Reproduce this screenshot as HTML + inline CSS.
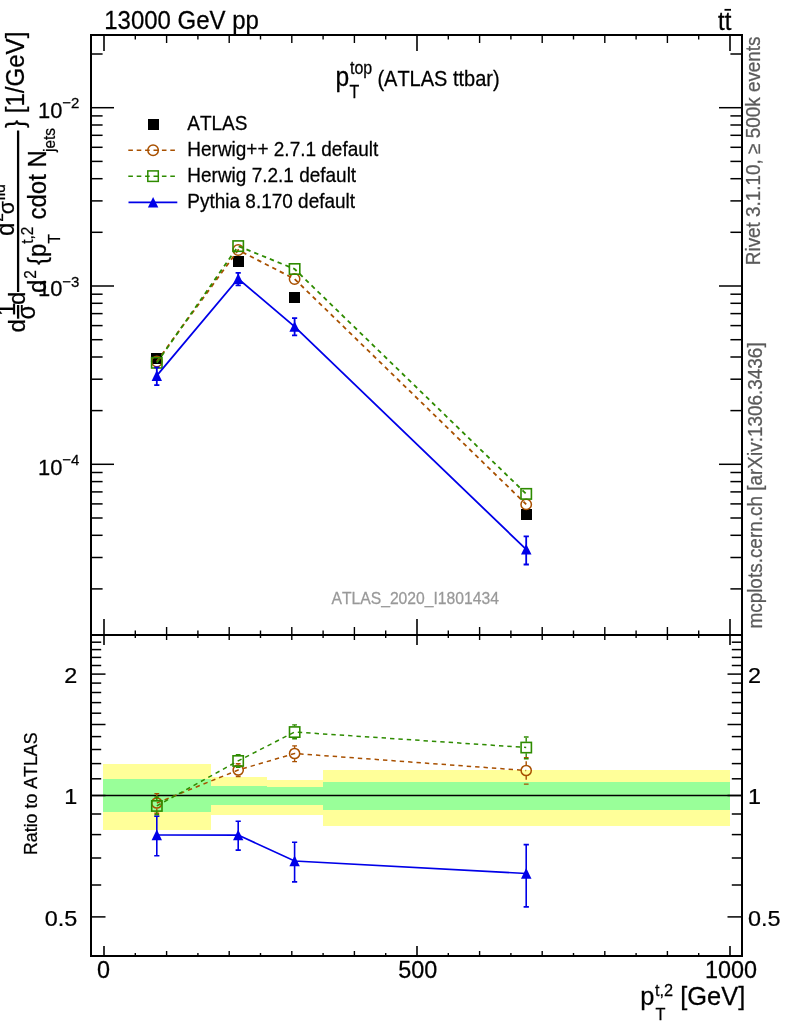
<!DOCTYPE html>
<html><head><meta charset="utf-8"><title>pT top (ATLAS ttbar)</title>
<style>html,body{margin:0;padding:0;background:#fff;}svg{display:block;}text{font-family:"Liberation Sans",Arial,Helvetica,sans-serif;font-kerning:none;}</style>
</head><body>
<svg width="786" height="1024" viewBox="0 0 786 1024">
<rect x="0" y="0" width="786" height="1024" fill="#fff"/>
<g shape-rendering="crispEdges">
<rect x="103.0" y="764.0" width="108.0" height="66.1" fill="#ffff99"/>
<rect x="211.0" y="776.8" width="56.0" height="38.3" fill="#ffff99"/>
<rect x="267.0" y="780.0" width="56.0" height="35.1" fill="#ffff99"/>
<rect x="323.0" y="770.3" width="407.0" height="55.4" fill="#ffff99"/>
<rect x="103.0" y="778.9" width="108.0" height="33.0" fill="#99ff99"/>
<rect x="211.0" y="786.0" width="56.0" height="18.6" fill="#99ff99"/>
<rect x="267.0" y="787.4" width="56.0" height="17.2" fill="#99ff99"/>
<rect x="323.0" y="782.2" width="407.0" height="27.6" fill="#99ff99"/>
</g>
<line x1="91.0" y1="795.5" x2="742.0" y2="795.5" stroke="#000" stroke-width="1.4"/>
<g stroke="#000" stroke-width="2" fill="none" stroke-linecap="square">
<rect x="91.0" y="35.0" width="651.0" height="600.0"/>
<rect x="91.0" y="635.0" width="651.0" height="321.0"/>
</g>
<g><line x1="104.0" y1="35.0" x2="104.0" y2="51.0" stroke="#000" stroke-width="1.6"/><line x1="104.0" y1="619.0" x2="104.0" y2="635.0" stroke="#000" stroke-width="1.6"/><line x1="104.0" y1="635.0" x2="104.0" y2="645.0" stroke="#000" stroke-width="1.6"/><line x1="104.0" y1="946.0" x2="104.0" y2="956.0" stroke="#000" stroke-width="1.6"/><line x1="135.3" y1="35.0" x2="135.3" y2="39.5" stroke="#000" stroke-width="1.4"/><line x1="135.3" y1="630.5" x2="135.3" y2="635.0" stroke="#000" stroke-width="1.4"/><line x1="135.3" y1="635.0" x2="135.3" y2="638.0" stroke="#000" stroke-width="1.4"/><line x1="135.3" y1="953.0" x2="135.3" y2="956.0" stroke="#000" stroke-width="1.4"/><line x1="166.6" y1="35.0" x2="166.6" y2="43.0" stroke="#000" stroke-width="1.4"/><line x1="166.6" y1="627.0" x2="166.6" y2="635.0" stroke="#000" stroke-width="1.4"/><line x1="166.6" y1="635.0" x2="166.6" y2="640.0" stroke="#000" stroke-width="1.4"/><line x1="166.6" y1="951.0" x2="166.6" y2="956.0" stroke="#000" stroke-width="1.4"/><line x1="197.9" y1="35.0" x2="197.9" y2="39.5" stroke="#000" stroke-width="1.4"/><line x1="197.9" y1="630.5" x2="197.9" y2="635.0" stroke="#000" stroke-width="1.4"/><line x1="197.9" y1="635.0" x2="197.9" y2="638.0" stroke="#000" stroke-width="1.4"/><line x1="197.9" y1="953.0" x2="197.9" y2="956.0" stroke="#000" stroke-width="1.4"/><line x1="229.2" y1="35.0" x2="229.2" y2="43.0" stroke="#000" stroke-width="1.4"/><line x1="229.2" y1="627.0" x2="229.2" y2="635.0" stroke="#000" stroke-width="1.4"/><line x1="229.2" y1="635.0" x2="229.2" y2="640.0" stroke="#000" stroke-width="1.4"/><line x1="229.2" y1="951.0" x2="229.2" y2="956.0" stroke="#000" stroke-width="1.4"/><line x1="260.5" y1="35.0" x2="260.5" y2="39.5" stroke="#000" stroke-width="1.4"/><line x1="260.5" y1="630.5" x2="260.5" y2="635.0" stroke="#000" stroke-width="1.4"/><line x1="260.5" y1="635.0" x2="260.5" y2="638.0" stroke="#000" stroke-width="1.4"/><line x1="260.5" y1="953.0" x2="260.5" y2="956.0" stroke="#000" stroke-width="1.4"/><line x1="291.8" y1="35.0" x2="291.8" y2="43.0" stroke="#000" stroke-width="1.4"/><line x1="291.8" y1="627.0" x2="291.8" y2="635.0" stroke="#000" stroke-width="1.4"/><line x1="291.8" y1="635.0" x2="291.8" y2="640.0" stroke="#000" stroke-width="1.4"/><line x1="291.8" y1="951.0" x2="291.8" y2="956.0" stroke="#000" stroke-width="1.4"/><line x1="323.1" y1="35.0" x2="323.1" y2="39.5" stroke="#000" stroke-width="1.4"/><line x1="323.1" y1="630.5" x2="323.1" y2="635.0" stroke="#000" stroke-width="1.4"/><line x1="323.1" y1="635.0" x2="323.1" y2="638.0" stroke="#000" stroke-width="1.4"/><line x1="323.1" y1="953.0" x2="323.1" y2="956.0" stroke="#000" stroke-width="1.4"/><line x1="354.4" y1="35.0" x2="354.4" y2="43.0" stroke="#000" stroke-width="1.4"/><line x1="354.4" y1="627.0" x2="354.4" y2="635.0" stroke="#000" stroke-width="1.4"/><line x1="354.4" y1="635.0" x2="354.4" y2="640.0" stroke="#000" stroke-width="1.4"/><line x1="354.4" y1="951.0" x2="354.4" y2="956.0" stroke="#000" stroke-width="1.4"/><line x1="385.7" y1="35.0" x2="385.7" y2="39.5" stroke="#000" stroke-width="1.4"/><line x1="385.7" y1="630.5" x2="385.7" y2="635.0" stroke="#000" stroke-width="1.4"/><line x1="385.7" y1="635.0" x2="385.7" y2="638.0" stroke="#000" stroke-width="1.4"/><line x1="385.7" y1="953.0" x2="385.7" y2="956.0" stroke="#000" stroke-width="1.4"/><line x1="417.0" y1="35.0" x2="417.0" y2="51.0" stroke="#000" stroke-width="1.6"/><line x1="417.0" y1="619.0" x2="417.0" y2="635.0" stroke="#000" stroke-width="1.6"/><line x1="417.0" y1="635.0" x2="417.0" y2="645.0" stroke="#000" stroke-width="1.6"/><line x1="417.0" y1="946.0" x2="417.0" y2="956.0" stroke="#000" stroke-width="1.6"/><line x1="448.3" y1="35.0" x2="448.3" y2="39.5" stroke="#000" stroke-width="1.4"/><line x1="448.3" y1="630.5" x2="448.3" y2="635.0" stroke="#000" stroke-width="1.4"/><line x1="448.3" y1="635.0" x2="448.3" y2="638.0" stroke="#000" stroke-width="1.4"/><line x1="448.3" y1="953.0" x2="448.3" y2="956.0" stroke="#000" stroke-width="1.4"/><line x1="479.6" y1="35.0" x2="479.6" y2="43.0" stroke="#000" stroke-width="1.4"/><line x1="479.6" y1="627.0" x2="479.6" y2="635.0" stroke="#000" stroke-width="1.4"/><line x1="479.6" y1="635.0" x2="479.6" y2="640.0" stroke="#000" stroke-width="1.4"/><line x1="479.6" y1="951.0" x2="479.6" y2="956.0" stroke="#000" stroke-width="1.4"/><line x1="510.9" y1="35.0" x2="510.9" y2="39.5" stroke="#000" stroke-width="1.4"/><line x1="510.9" y1="630.5" x2="510.9" y2="635.0" stroke="#000" stroke-width="1.4"/><line x1="510.9" y1="635.0" x2="510.9" y2="638.0" stroke="#000" stroke-width="1.4"/><line x1="510.9" y1="953.0" x2="510.9" y2="956.0" stroke="#000" stroke-width="1.4"/><line x1="542.2" y1="35.0" x2="542.2" y2="43.0" stroke="#000" stroke-width="1.4"/><line x1="542.2" y1="627.0" x2="542.2" y2="635.0" stroke="#000" stroke-width="1.4"/><line x1="542.2" y1="635.0" x2="542.2" y2="640.0" stroke="#000" stroke-width="1.4"/><line x1="542.2" y1="951.0" x2="542.2" y2="956.0" stroke="#000" stroke-width="1.4"/><line x1="573.5" y1="35.0" x2="573.5" y2="39.5" stroke="#000" stroke-width="1.4"/><line x1="573.5" y1="630.5" x2="573.5" y2="635.0" stroke="#000" stroke-width="1.4"/><line x1="573.5" y1="635.0" x2="573.5" y2="638.0" stroke="#000" stroke-width="1.4"/><line x1="573.5" y1="953.0" x2="573.5" y2="956.0" stroke="#000" stroke-width="1.4"/><line x1="604.8" y1="35.0" x2="604.8" y2="43.0" stroke="#000" stroke-width="1.4"/><line x1="604.8" y1="627.0" x2="604.8" y2="635.0" stroke="#000" stroke-width="1.4"/><line x1="604.8" y1="635.0" x2="604.8" y2="640.0" stroke="#000" stroke-width="1.4"/><line x1="604.8" y1="951.0" x2="604.8" y2="956.0" stroke="#000" stroke-width="1.4"/><line x1="636.1" y1="35.0" x2="636.1" y2="39.5" stroke="#000" stroke-width="1.4"/><line x1="636.1" y1="630.5" x2="636.1" y2="635.0" stroke="#000" stroke-width="1.4"/><line x1="636.1" y1="635.0" x2="636.1" y2="638.0" stroke="#000" stroke-width="1.4"/><line x1="636.1" y1="953.0" x2="636.1" y2="956.0" stroke="#000" stroke-width="1.4"/><line x1="667.4" y1="35.0" x2="667.4" y2="43.0" stroke="#000" stroke-width="1.4"/><line x1="667.4" y1="627.0" x2="667.4" y2="635.0" stroke="#000" stroke-width="1.4"/><line x1="667.4" y1="635.0" x2="667.4" y2="640.0" stroke="#000" stroke-width="1.4"/><line x1="667.4" y1="951.0" x2="667.4" y2="956.0" stroke="#000" stroke-width="1.4"/><line x1="698.7" y1="35.0" x2="698.7" y2="39.5" stroke="#000" stroke-width="1.4"/><line x1="698.7" y1="630.5" x2="698.7" y2="635.0" stroke="#000" stroke-width="1.4"/><line x1="698.7" y1="635.0" x2="698.7" y2="638.0" stroke="#000" stroke-width="1.4"/><line x1="698.7" y1="953.0" x2="698.7" y2="956.0" stroke="#000" stroke-width="1.4"/><line x1="730.0" y1="35.0" x2="730.0" y2="51.0" stroke="#000" stroke-width="1.6"/><line x1="730.0" y1="619.0" x2="730.0" y2="635.0" stroke="#000" stroke-width="1.6"/><line x1="730.0" y1="635.0" x2="730.0" y2="645.0" stroke="#000" stroke-width="1.6"/><line x1="730.0" y1="946.0" x2="730.0" y2="956.0" stroke="#000" stroke-width="1.6"/><line x1="91.0" y1="588.9" x2="102.6" y2="588.9" stroke="#000" stroke-width="1.5"/><line x1="730.4" y1="588.9" x2="742.0" y2="588.9" stroke="#000" stroke-width="1.5"/><line x1="91.0" y1="557.5" x2="102.6" y2="557.5" stroke="#000" stroke-width="1.5"/><line x1="730.4" y1="557.5" x2="742.0" y2="557.5" stroke="#000" stroke-width="1.5"/><line x1="91.0" y1="535.3" x2="102.6" y2="535.3" stroke="#000" stroke-width="1.5"/><line x1="730.4" y1="535.3" x2="742.0" y2="535.3" stroke="#000" stroke-width="1.5"/><line x1="91.0" y1="518.0" x2="102.6" y2="518.0" stroke="#000" stroke-width="1.5"/><line x1="730.4" y1="518.0" x2="742.0" y2="518.0" stroke="#000" stroke-width="1.5"/><line x1="91.0" y1="503.9" x2="102.6" y2="503.9" stroke="#000" stroke-width="1.5"/><line x1="730.4" y1="503.9" x2="742.0" y2="503.9" stroke="#000" stroke-width="1.5"/><line x1="91.0" y1="491.9" x2="102.6" y2="491.9" stroke="#000" stroke-width="1.5"/><line x1="730.4" y1="491.9" x2="742.0" y2="491.9" stroke="#000" stroke-width="1.5"/><line x1="91.0" y1="481.6" x2="102.6" y2="481.6" stroke="#000" stroke-width="1.5"/><line x1="730.4" y1="481.6" x2="742.0" y2="481.6" stroke="#000" stroke-width="1.5"/><line x1="91.0" y1="472.5" x2="102.6" y2="472.5" stroke="#000" stroke-width="1.5"/><line x1="730.4" y1="472.5" x2="742.0" y2="472.5" stroke="#000" stroke-width="1.5"/><line x1="91.0" y1="464.3" x2="114.0" y2="464.3" stroke="#000" stroke-width="1.5"/><line x1="719.0" y1="464.3" x2="742.0" y2="464.3" stroke="#000" stroke-width="1.5"/><line x1="91.0" y1="410.6" x2="102.6" y2="410.6" stroke="#000" stroke-width="1.5"/><line x1="730.4" y1="410.6" x2="742.0" y2="410.6" stroke="#000" stroke-width="1.5"/><line x1="91.0" y1="379.2" x2="102.6" y2="379.2" stroke="#000" stroke-width="1.5"/><line x1="730.4" y1="379.2" x2="742.0" y2="379.2" stroke="#000" stroke-width="1.5"/><line x1="91.0" y1="357.0" x2="102.6" y2="357.0" stroke="#000" stroke-width="1.5"/><line x1="730.4" y1="357.0" x2="742.0" y2="357.0" stroke="#000" stroke-width="1.5"/><line x1="91.0" y1="339.7" x2="102.6" y2="339.7" stroke="#000" stroke-width="1.5"/><line x1="730.4" y1="339.7" x2="742.0" y2="339.7" stroke="#000" stroke-width="1.5"/><line x1="91.0" y1="325.6" x2="102.6" y2="325.6" stroke="#000" stroke-width="1.5"/><line x1="730.4" y1="325.6" x2="742.0" y2="325.6" stroke="#000" stroke-width="1.5"/><line x1="91.0" y1="313.6" x2="102.6" y2="313.6" stroke="#000" stroke-width="1.5"/><line x1="730.4" y1="313.6" x2="742.0" y2="313.6" stroke="#000" stroke-width="1.5"/><line x1="91.0" y1="303.3" x2="102.6" y2="303.3" stroke="#000" stroke-width="1.5"/><line x1="730.4" y1="303.3" x2="742.0" y2="303.3" stroke="#000" stroke-width="1.5"/><line x1="91.0" y1="294.2" x2="102.6" y2="294.2" stroke="#000" stroke-width="1.5"/><line x1="730.4" y1="294.2" x2="742.0" y2="294.2" stroke="#000" stroke-width="1.5"/><line x1="91.0" y1="286.0" x2="114.0" y2="286.0" stroke="#000" stroke-width="1.5"/><line x1="719.0" y1="286.0" x2="742.0" y2="286.0" stroke="#000" stroke-width="1.5"/><line x1="91.0" y1="232.3" x2="102.6" y2="232.3" stroke="#000" stroke-width="1.5"/><line x1="730.4" y1="232.3" x2="742.0" y2="232.3" stroke="#000" stroke-width="1.5"/><line x1="91.0" y1="200.9" x2="102.6" y2="200.9" stroke="#000" stroke-width="1.5"/><line x1="730.4" y1="200.9" x2="742.0" y2="200.9" stroke="#000" stroke-width="1.5"/><line x1="91.0" y1="178.7" x2="102.6" y2="178.7" stroke="#000" stroke-width="1.5"/><line x1="730.4" y1="178.7" x2="742.0" y2="178.7" stroke="#000" stroke-width="1.5"/><line x1="91.0" y1="161.4" x2="102.6" y2="161.4" stroke="#000" stroke-width="1.5"/><line x1="730.4" y1="161.4" x2="742.0" y2="161.4" stroke="#000" stroke-width="1.5"/><line x1="91.0" y1="147.3" x2="102.6" y2="147.3" stroke="#000" stroke-width="1.5"/><line x1="730.4" y1="147.3" x2="742.0" y2="147.3" stroke="#000" stroke-width="1.5"/><line x1="91.0" y1="135.3" x2="102.6" y2="135.3" stroke="#000" stroke-width="1.5"/><line x1="730.4" y1="135.3" x2="742.0" y2="135.3" stroke="#000" stroke-width="1.5"/><line x1="91.0" y1="125.0" x2="102.6" y2="125.0" stroke="#000" stroke-width="1.5"/><line x1="730.4" y1="125.0" x2="742.0" y2="125.0" stroke="#000" stroke-width="1.5"/><line x1="91.0" y1="115.9" x2="102.6" y2="115.9" stroke="#000" stroke-width="1.5"/><line x1="730.4" y1="115.9" x2="742.0" y2="115.9" stroke="#000" stroke-width="1.5"/><line x1="91.0" y1="107.7" x2="114.0" y2="107.7" stroke="#000" stroke-width="1.5"/><line x1="719.0" y1="107.7" x2="742.0" y2="107.7" stroke="#000" stroke-width="1.5"/><line x1="91.0" y1="54.0" x2="102.6" y2="54.0" stroke="#000" stroke-width="1.5"/><line x1="730.4" y1="54.0" x2="742.0" y2="54.0" stroke="#000" stroke-width="1.5"/><line x1="91.0" y1="916.9" x2="105.5" y2="916.9" stroke="#000" stroke-width="1.5"/><line x1="727.5" y1="916.9" x2="742.0" y2="916.9" stroke="#000" stroke-width="1.5"/><line x1="91.0" y1="885.0" x2="101.2" y2="885.0" stroke="#000" stroke-width="1.5"/><line x1="731.8" y1="885.0" x2="742.0" y2="885.0" stroke="#000" stroke-width="1.5"/><line x1="91.0" y1="858.0" x2="101.2" y2="858.0" stroke="#000" stroke-width="1.5"/><line x1="731.8" y1="858.0" x2="742.0" y2="858.0" stroke="#000" stroke-width="1.5"/><line x1="91.0" y1="834.6" x2="101.2" y2="834.6" stroke="#000" stroke-width="1.5"/><line x1="731.8" y1="834.6" x2="742.0" y2="834.6" stroke="#000" stroke-width="1.5"/><line x1="91.0" y1="814.0" x2="101.2" y2="814.0" stroke="#000" stroke-width="1.5"/><line x1="731.8" y1="814.0" x2="742.0" y2="814.0" stroke="#000" stroke-width="1.5"/><line x1="91.0" y1="795.5" x2="105.5" y2="795.5" stroke="#000" stroke-width="1.5"/><line x1="727.5" y1="795.5" x2="742.0" y2="795.5" stroke="#000" stroke-width="1.5"/><line x1="91.0" y1="778.8" x2="101.2" y2="778.8" stroke="#000" stroke-width="1.5"/><line x1="731.8" y1="778.8" x2="742.0" y2="778.8" stroke="#000" stroke-width="1.5"/><line x1="91.0" y1="763.6" x2="101.2" y2="763.6" stroke="#000" stroke-width="1.5"/><line x1="731.8" y1="763.6" x2="742.0" y2="763.6" stroke="#000" stroke-width="1.5"/><line x1="91.0" y1="749.5" x2="101.2" y2="749.5" stroke="#000" stroke-width="1.5"/><line x1="731.8" y1="749.5" x2="742.0" y2="749.5" stroke="#000" stroke-width="1.5"/><line x1="91.0" y1="736.6" x2="101.2" y2="736.6" stroke="#000" stroke-width="1.5"/><line x1="731.8" y1="736.6" x2="742.0" y2="736.6" stroke="#000" stroke-width="1.5"/><line x1="91.0" y1="724.5" x2="105.5" y2="724.5" stroke="#000" stroke-width="1.5"/><line x1="727.5" y1="724.5" x2="742.0" y2="724.5" stroke="#000" stroke-width="1.5"/><line x1="91.0" y1="713.2" x2="101.2" y2="713.2" stroke="#000" stroke-width="1.5"/><line x1="731.8" y1="713.2" x2="742.0" y2="713.2" stroke="#000" stroke-width="1.5"/><line x1="91.0" y1="702.6" x2="101.2" y2="702.6" stroke="#000" stroke-width="1.5"/><line x1="731.8" y1="702.6" x2="742.0" y2="702.6" stroke="#000" stroke-width="1.5"/><line x1="91.0" y1="692.5" x2="101.2" y2="692.5" stroke="#000" stroke-width="1.5"/><line x1="731.8" y1="692.5" x2="742.0" y2="692.5" stroke="#000" stroke-width="1.5"/><line x1="91.0" y1="683.1" x2="101.2" y2="683.1" stroke="#000" stroke-width="1.5"/><line x1="731.8" y1="683.1" x2="742.0" y2="683.1" stroke="#000" stroke-width="1.5"/><line x1="91.0" y1="674.1" x2="105.5" y2="674.1" stroke="#000" stroke-width="1.5"/><line x1="727.5" y1="674.1" x2="742.0" y2="674.1" stroke="#000" stroke-width="1.5"/><line x1="91.0" y1="665.5" x2="101.2" y2="665.5" stroke="#000" stroke-width="1.5"/><line x1="731.8" y1="665.5" x2="742.0" y2="665.5" stroke="#000" stroke-width="1.5"/><line x1="91.0" y1="657.4" x2="101.2" y2="657.4" stroke="#000" stroke-width="1.5"/><line x1="731.8" y1="657.4" x2="742.0" y2="657.4" stroke="#000" stroke-width="1.5"/><line x1="91.0" y1="649.6" x2="101.2" y2="649.6" stroke="#000" stroke-width="1.5"/><line x1="731.8" y1="649.6" x2="742.0" y2="649.6" stroke="#000" stroke-width="1.5"/><line x1="91.0" y1="642.2" x2="101.2" y2="642.2" stroke="#000" stroke-width="1.5"/><line x1="731.8" y1="642.2" x2="742.0" y2="642.2" stroke="#000" stroke-width="1.5"/></g>
<rect x="151.2" y="353.1" width="11.2" height="11.2" fill="#000" shape-rendering="crispEdges"/>
<rect x="232.6" y="255.8" width="11.2" height="11.2" fill="#000" shape-rendering="crispEdges"/>
<rect x="289.0" y="291.8" width="11.2" height="11.2" fill="#000" shape-rendering="crispEdges"/>
<rect x="520.6" y="509.2" width="11.2" height="11.2" fill="#000" shape-rendering="crispEdges"/>
<polyline points="156.8,361.5 238.2,250.0 294.6,279.0 526.2,504.4" fill="none" stroke="#a85000" stroke-width="1.8" stroke-dasharray="4.4 4"/>
<circle cx="156.8" cy="361.5" r="5.2" fill="none" stroke="#a85000" stroke-width="1.5"/>
<circle cx="238.2" cy="250.0" r="5.2" fill="none" stroke="#a85000" stroke-width="1.5"/>
<circle cx="294.6" cy="279.0" r="5.2" fill="none" stroke="#a85000" stroke-width="1.5"/>
<circle cx="526.2" cy="504.4" r="5.2" fill="none" stroke="#a85000" stroke-width="1.5"/>
<polyline points="156.8,362.8 238.2,246.1 294.6,269.0 526.2,493.9" fill="none" stroke="#2e8b00" stroke-width="1.8" stroke-dasharray="4.4 4"/>
<rect x="151.6" y="357.6" width="10.4" height="10.4" fill="none" stroke="#2e8b00" stroke-width="1.6"/>
<rect x="233.0" y="240.9" width="10.4" height="10.4" fill="none" stroke="#2e8b00" stroke-width="1.6"/>
<rect x="289.4" y="263.8" width="10.4" height="10.4" fill="none" stroke="#2e8b00" stroke-width="1.6"/>
<rect x="521.0" y="488.7" width="10.4" height="10.4" fill="none" stroke="#2e8b00" stroke-width="1.6"/>
<polyline points="156.8,375.7 238.2,278.7 294.6,326.6 526.2,549.4" fill="none" stroke="#0000e8" stroke-width="1.8"/>
<path d="M156.8 367.3V385.1M154.2 367.3H159.4M154.2 385.1H159.4" stroke="#0000e8" stroke-width="1.8" fill="none"/>
<path d="M238.2 272.9V285.3M235.6 272.9H240.8M235.6 285.3H240.8" stroke="#0000e8" stroke-width="1.8" fill="none"/>
<path d="M294.6 318.2V335.3M292.0 318.2H297.2M292.0 335.3H297.2" stroke="#0000e8" stroke-width="1.8" fill="none"/>
<path d="M526.2 536.4V564.5M523.6 536.4H528.9M523.6 564.5H528.9" stroke="#0000e8" stroke-width="1.8" fill="none"/>
<path d="M156.8 370.3L162.0 380.9H151.6Z" fill="#0000e8"/>
<path d="M238.2 273.3L243.4 283.9H233.0Z" fill="#0000e8"/>
<path d="M294.6 321.2L299.8 331.8H289.4Z" fill="#0000e8"/>
<path d="M526.2 544.0L531.5 554.6H521.0Z" fill="#0000e8"/>
<polyline points="156.8,803.0 238.2,770.0 294.6,753.5 526.2,770.5" fill="none" stroke="#a85000" stroke-width="1.5" stroke-dasharray="4.4 4"/>
<g stroke="#a85000" stroke-width="1.4" fill="none"><line x1="156.8" y1="797.4" x2="156.8" y2="793.6" stroke-dasharray="3.6 20"/><line x1="156.8" y1="808.6" x2="156.8" y2="813.2" stroke-dasharray="3.6 20"/><path d="M154.4 793.6H159.2M154.4 813.2H159.2"/></g>
<g stroke="#a85000" stroke-width="1.4" fill="none"><line x1="238.2" y1="764.4" x2="238.2" y2="763.6" stroke-dasharray="3.6 20"/><line x1="238.2" y1="775.6" x2="238.2" y2="776.5" stroke-dasharray="3.6 20"/><path d="M235.8 763.6H240.6M235.8 776.5H240.6"/></g>
<g stroke="#a85000" stroke-width="1.4" fill="none"><line x1="294.6" y1="747.9" x2="294.6" y2="745.9" stroke-dasharray="3.6 20"/><line x1="294.6" y1="759.1" x2="294.6" y2="761.6" stroke-dasharray="3.6 20"/><path d="M292.2 745.9H297.0M292.2 761.6H297.0"/></g>
<g stroke="#a85000" stroke-width="1.4" fill="none"><line x1="526.2" y1="764.9" x2="526.2" y2="757.6" stroke-dasharray="3.6 20"/><line x1="526.2" y1="776.1" x2="526.2" y2="784.1" stroke-dasharray="3.6 20"/><path d="M523.9 757.6H528.6M523.9 784.1H528.6"/></g>
<circle cx="156.8" cy="803.0" r="5.1" fill="none" stroke="#a85000" stroke-width="1.5"/>
<circle cx="238.2" cy="770.0" r="5.1" fill="none" stroke="#a85000" stroke-width="1.5"/>
<circle cx="294.6" cy="753.5" r="5.1" fill="none" stroke="#a85000" stroke-width="1.5"/>
<circle cx="526.2" cy="770.5" r="5.1" fill="none" stroke="#a85000" stroke-width="1.5"/>
<polyline points="156.8,805.9 238.2,760.9 294.6,732.0 526.2,747.5" fill="none" stroke="#2e8b00" stroke-width="1.5" stroke-dasharray="4.4 4"/>
<g stroke="#2e8b00" stroke-width="1.4" fill="none"><line x1="156.8" y1="800.1" x2="156.8" y2="797.0" stroke-dasharray="3.6 20"/><line x1="156.8" y1="811.7" x2="156.8" y2="814.8" stroke-dasharray="3.6 20"/><path d="M154.4 797.0H159.2M154.4 814.8H159.2"/></g>
<g stroke="#2e8b00" stroke-width="1.4" fill="none"><line x1="238.2" y1="755.1" x2="238.2" y2="754.6" stroke-dasharray="3.6 20"/><line x1="238.2" y1="766.7" x2="238.2" y2="767.2" stroke-dasharray="3.6 20"/><path d="M235.8 754.6H240.6M235.8 767.2H240.6"/></g>
<g stroke="#2e8b00" stroke-width="1.4" fill="none"><line x1="294.6" y1="726.2" x2="294.6" y2="724.9" stroke-dasharray="3.6 20"/><line x1="294.6" y1="737.8" x2="294.6" y2="738.8" stroke-dasharray="3.6 20"/><path d="M292.2 724.9H297.0M292.2 738.8H297.0"/></g>
<g stroke="#2e8b00" stroke-width="1.4" fill="none"><line x1="526.2" y1="741.7" x2="526.2" y2="737.0" stroke-dasharray="3.6 20"/><line x1="526.2" y1="753.3" x2="526.2" y2="758.8" stroke-dasharray="3.6 20"/><path d="M523.9 737.0H528.6M523.9 758.8H528.6"/></g>
<rect x="151.7" y="800.8" width="10.3" height="10.3" fill="none" stroke="#2e8b00" stroke-width="1.6"/>
<rect x="233.0" y="755.8" width="10.3" height="10.3" fill="none" stroke="#2e8b00" stroke-width="1.6"/>
<rect x="289.5" y="726.9" width="10.3" height="10.3" fill="none" stroke="#2e8b00" stroke-width="1.6"/>
<rect x="521.1" y="742.4" width="10.3" height="10.3" fill="none" stroke="#2e8b00" stroke-width="1.6"/>
<polyline points="156.8,835.0 238.2,835.1 294.6,861.0 526.2,873.5" fill="none" stroke="#0000e8" stroke-width="1.7"/>
<path d="M156.8 816.2V855.8M154.2 816.2H159.4M154.2 855.8H159.4" stroke="#0000e8" stroke-width="1.6" fill="none"/>
<path d="M238.2 821.2V850.1M235.6 821.2H240.8M235.6 850.1H240.8" stroke="#0000e8" stroke-width="1.6" fill="none"/>
<path d="M294.6 842.2V881.9M292.0 842.2H297.2M292.0 881.9H297.2" stroke="#0000e8" stroke-width="1.6" fill="none"/>
<path d="M526.2 844.6V906.9M523.6 844.6H528.9M523.6 906.9H528.9" stroke="#0000e8" stroke-width="1.6" fill="none"/>
<path d="M156.8 829.6L162.0 840.2H151.6Z" fill="#0000e8"/>
<path d="M238.2 829.7L243.4 840.3H233.0Z" fill="#0000e8"/>
<path d="M294.6 855.6L299.8 866.2H289.4Z" fill="#0000e8"/>
<path d="M526.2 868.1L531.5 878.7H521.0Z" fill="#0000e8"/>
<rect x="147.8" y="118.8" width="11" height="11" fill="#000" shape-rendering="crispEdges"/>
<line x1="128.3" y1="150.2" x2="175.2" y2="150.2" stroke="#a85000" stroke-width="1.6" stroke-dasharray="4.6 3.8"/>
<circle cx="153.1" cy="150.2" r="5.25" fill="none" stroke="#a85000" stroke-width="1.5"/>
<line x1="128.3" y1="176.2" x2="175.2" y2="176.2" stroke="#2e8b00" stroke-width="1.6" stroke-dasharray="4.6 3.8"/>
<rect x="147.8" y="170.9" width="10.5" height="10.5" fill="none" stroke="#2e8b00" stroke-width="1.5"/>
<line x1="128.5" y1="202.3" x2="177.3" y2="202.3" stroke="#0000e8" stroke-width="1.7"/>
<path d="M153.1 197.0L158.3 207.4H147.9Z" fill="#0000e8"/>
<text transform="translate(187.30,130.20) scale(1.0,1.065)" font-size="19.0" stroke="#000" stroke-width="0.25">ATLAS</text>
<text transform="translate(187.30,156.10) scale(1.0,1.065)" font-size="19.0" stroke="#000" stroke-width="0.25">Herwig++ 2.7.1 default</text>
<text transform="translate(187.30,182.10) scale(1.0,1.065)" font-size="19.0" stroke="#000" stroke-width="0.25">Herwig 7.2.1 default</text>
<text transform="translate(187.30,208.20) scale(1.0,1.065)" font-size="19.0" stroke="#000" stroke-width="0.25">Pythia 8.170 default</text>
<text transform="translate(104.20,29.40) scale(1.0,1.09)" font-size="24.0" stroke="#000" stroke-width="0.25">13000 GeV pp</text>
<text transform="translate(718.10,29.60) scale(1.0,1.09)" font-size="24.0" stroke="#000" stroke-width="0.25">tt</text>
<line x1="724.5" y1="9.8" x2="731" y2="9.8" stroke="#000" stroke-width="1.8"/>
<text transform="translate(335.50,85.80) scale(1.0,1.09)" font-size="24.6" stroke="#000" stroke-width="0.25">p</text>
<text transform="translate(350.00,74.40) scale(1.0,1.09)" font-size="16" stroke="#000" stroke-width="0.25">top</text>
<text transform="translate(349.60,98.40) scale(1.0,1.09)" font-size="16" stroke="#000" stroke-width="0.25">T</text>
<text transform="translate(377.40,86.30) scale(1.0,1.09)" font-size="20.0" stroke="#000" stroke-width="0.25">(ATLAS ttbar)</text>
<text transform="translate(415.20,603.80) scale(1.0,1.09)" font-size="15.7" text-anchor="middle" fill="#999" stroke="#999" stroke-width="0.25">ATLAS_2020_I1801434</text>
<text transform="translate(760.10,265.20) rotate(-90) scale(1.0,1.03)" font-size="18.9" fill="#5a5a5a" stroke="#5a5a5a" stroke-width="0.25">Rivet 3.1.10, ≥ 500k events</text>
<text transform="translate(762.30,628.60) rotate(-90) scale(1.0,1.03)" font-size="18.95" fill="#5a5a5a" stroke="#5a5a5a" stroke-width="0.25">mcplots.cern.ch [arXiv:1306.3436]</text>
<text transform="translate(103.50,978.00) scale(1.0,1.04)" font-size="23.4" text-anchor="middle" stroke="#000" stroke-width="0.25">0</text>
<text transform="translate(417.70,978.00) scale(1.0,1.04)" font-size="23.4" text-anchor="middle" stroke="#000" stroke-width="0.25">500</text>
<text transform="translate(730.90,978.00) scale(1.0,1.04)" font-size="23.4" text-anchor="middle" stroke="#000" stroke-width="0.25">1000</text>
<text transform="translate(77.20,682.69) scale(1.0,0.98)" font-size="23.4" text-anchor="end" stroke="#000" stroke-width="0.25">2</text>
<text transform="translate(747.90,682.69) scale(1.0,0.98)" font-size="23.4" stroke="#000" stroke-width="0.25">2</text>
<text transform="translate(77.20,804.10) scale(1.0,0.98)" font-size="23.4" text-anchor="end" stroke="#000" stroke-width="0.25">1</text>
<text transform="translate(747.90,804.10) scale(1.0,0.98)" font-size="23.4" stroke="#000" stroke-width="0.25">1</text>
<text transform="translate(77.20,925.51) scale(1.0,0.98)" font-size="23.4" text-anchor="end" stroke="#000" stroke-width="0.25">0.5</text>
<text transform="translate(747.90,925.51) scale(1.0,0.98)" font-size="23.4" stroke="#000" stroke-width="0.25">0.5</text>
<text transform="translate(38.10,118.10) scale(1.0,1.02)" font-size="21.9" stroke="#000" stroke-width="0.25">10</text>
<text transform="translate(62.30,108.30) scale(1.0,1.02)" font-size="15.0" stroke="#000" stroke-width="0.25">−2</text>
<text transform="translate(38.10,296.40) scale(1.0,1.02)" font-size="21.9" stroke="#000" stroke-width="0.25">10</text>
<text transform="translate(62.30,286.60) scale(1.0,1.02)" font-size="15.0" stroke="#000" stroke-width="0.25">−3</text>
<text transform="translate(38.10,474.70) scale(1.0,1.02)" font-size="21.9" stroke="#000" stroke-width="0.25">10</text>
<text transform="translate(62.30,464.90) scale(1.0,1.02)" font-size="15.0" stroke="#000" stroke-width="0.25">−4</text>
<text transform="translate(36.50,855.00) rotate(-90) scale(1.0,1.0)" font-size="17.8" stroke="#000" stroke-width="0.25">Ratio to ATLAS</text>
<text transform="translate(640.30,1004.80) scale(1.0,1.03)" font-size="25.4" stroke="#000" stroke-width="0.25">p</text>
<text transform="translate(655.00,996.20) scale(1.0,1.03)" font-size="16.3" stroke="#000" stroke-width="0.25">t,2</text>
<text transform="translate(655.40,1020.00) scale(1.0,1.03)" font-size="16.3" stroke="#000" stroke-width="0.25">T</text>
<text transform="translate(745.20,1004.80) scale(1.0,1.03)" font-size="25.4" text-anchor="end" stroke="#000" stroke-width="0.25">[GeV]</text>
<text transform="translate(24.60,332.50) rotate(-90) scale(1.0,1.02)" font-size="24.0" stroke="#000" stroke-width="0.25">d</text>
<text transform="translate(14.80,316.10) rotate(-90) scale(1.0,1.05)" font-size="24.0" stroke="#000" stroke-width="0.25">1</text>
<text transform="translate(34.80,319.60) rotate(-90) scale(1.0,1.05)" font-size="24.0" stroke="#000" stroke-width="0.25">σ</text>
<line x1="18.1" y1="318.7" x2="18.1" y2="305" stroke="#000" stroke-width="2.3"/>
<text transform="translate(24.60,305.00) rotate(-90) scale(1.0,1.02)" font-size="24.0" stroke="#000" stroke-width="0.25">d</text>
<line x1="18.1" y1="292" x2="18.1" y2="130.5" stroke="#000" stroke-width="2.3"/>
<text transform="translate(14.20,236.00) rotate(-90) scale(1.0,1.05)" font-size="24.0" stroke="#000" stroke-width="0.25">d</text>
<text transform="translate(2.60,221.70) rotate(-90) scale(1.0,1.05)" font-size="15.4" stroke="#000" stroke-width="0.25">2</text>
<text transform="translate(14.30,214.30) rotate(-90) scale(1.0,1.05)" font-size="21.3" stroke="#000" stroke-width="0.25">σ</text>
<text transform="translate(4.90,200.40) rotate(-90) scale(1.0,1.05)" font-size="15.4" stroke="#000" stroke-width="0.25">fid</text>
<text transform="translate(45.70,293.00) rotate(-90) scale(1.0,1.05)" font-size="24.0" stroke="#000" stroke-width="0.25">d</text>
<text transform="translate(36.00,278.80) rotate(-90) scale(1.0,1.05)" font-size="15.4" stroke="#000" stroke-width="0.25">2</text>
<text transform="translate(45.70,265.00) rotate(-90) scale(1.0,1.05)" font-size="24.0" stroke="#000" stroke-width="0.25">{p</text>
<text transform="translate(60.00,243.50) rotate(-90) scale(1.0,1.05)" font-size="15.4" stroke="#000" stroke-width="0.25">T</text>
<text transform="translate(33.00,243.80) rotate(-90) scale(1.0,1.05)" font-size="15.4" stroke="#000" stroke-width="0.25">t,2</text>
<text transform="translate(45.70,219.50) rotate(-90) scale(1.0,1.05)" font-size="24.0" stroke="#000" stroke-width="0.25">cdot N</text>
<text transform="translate(55.00,152.00) rotate(-90) scale(1.0,1.05)" font-size="15.4" stroke="#000" stroke-width="0.25">jets</text>
<text transform="translate(24.00,128.00) rotate(-90) scale(1.0,1.05)" font-size="24.1" stroke="#000" stroke-width="0.25">} [1/GeV]</text>
</svg>
</body></html>
